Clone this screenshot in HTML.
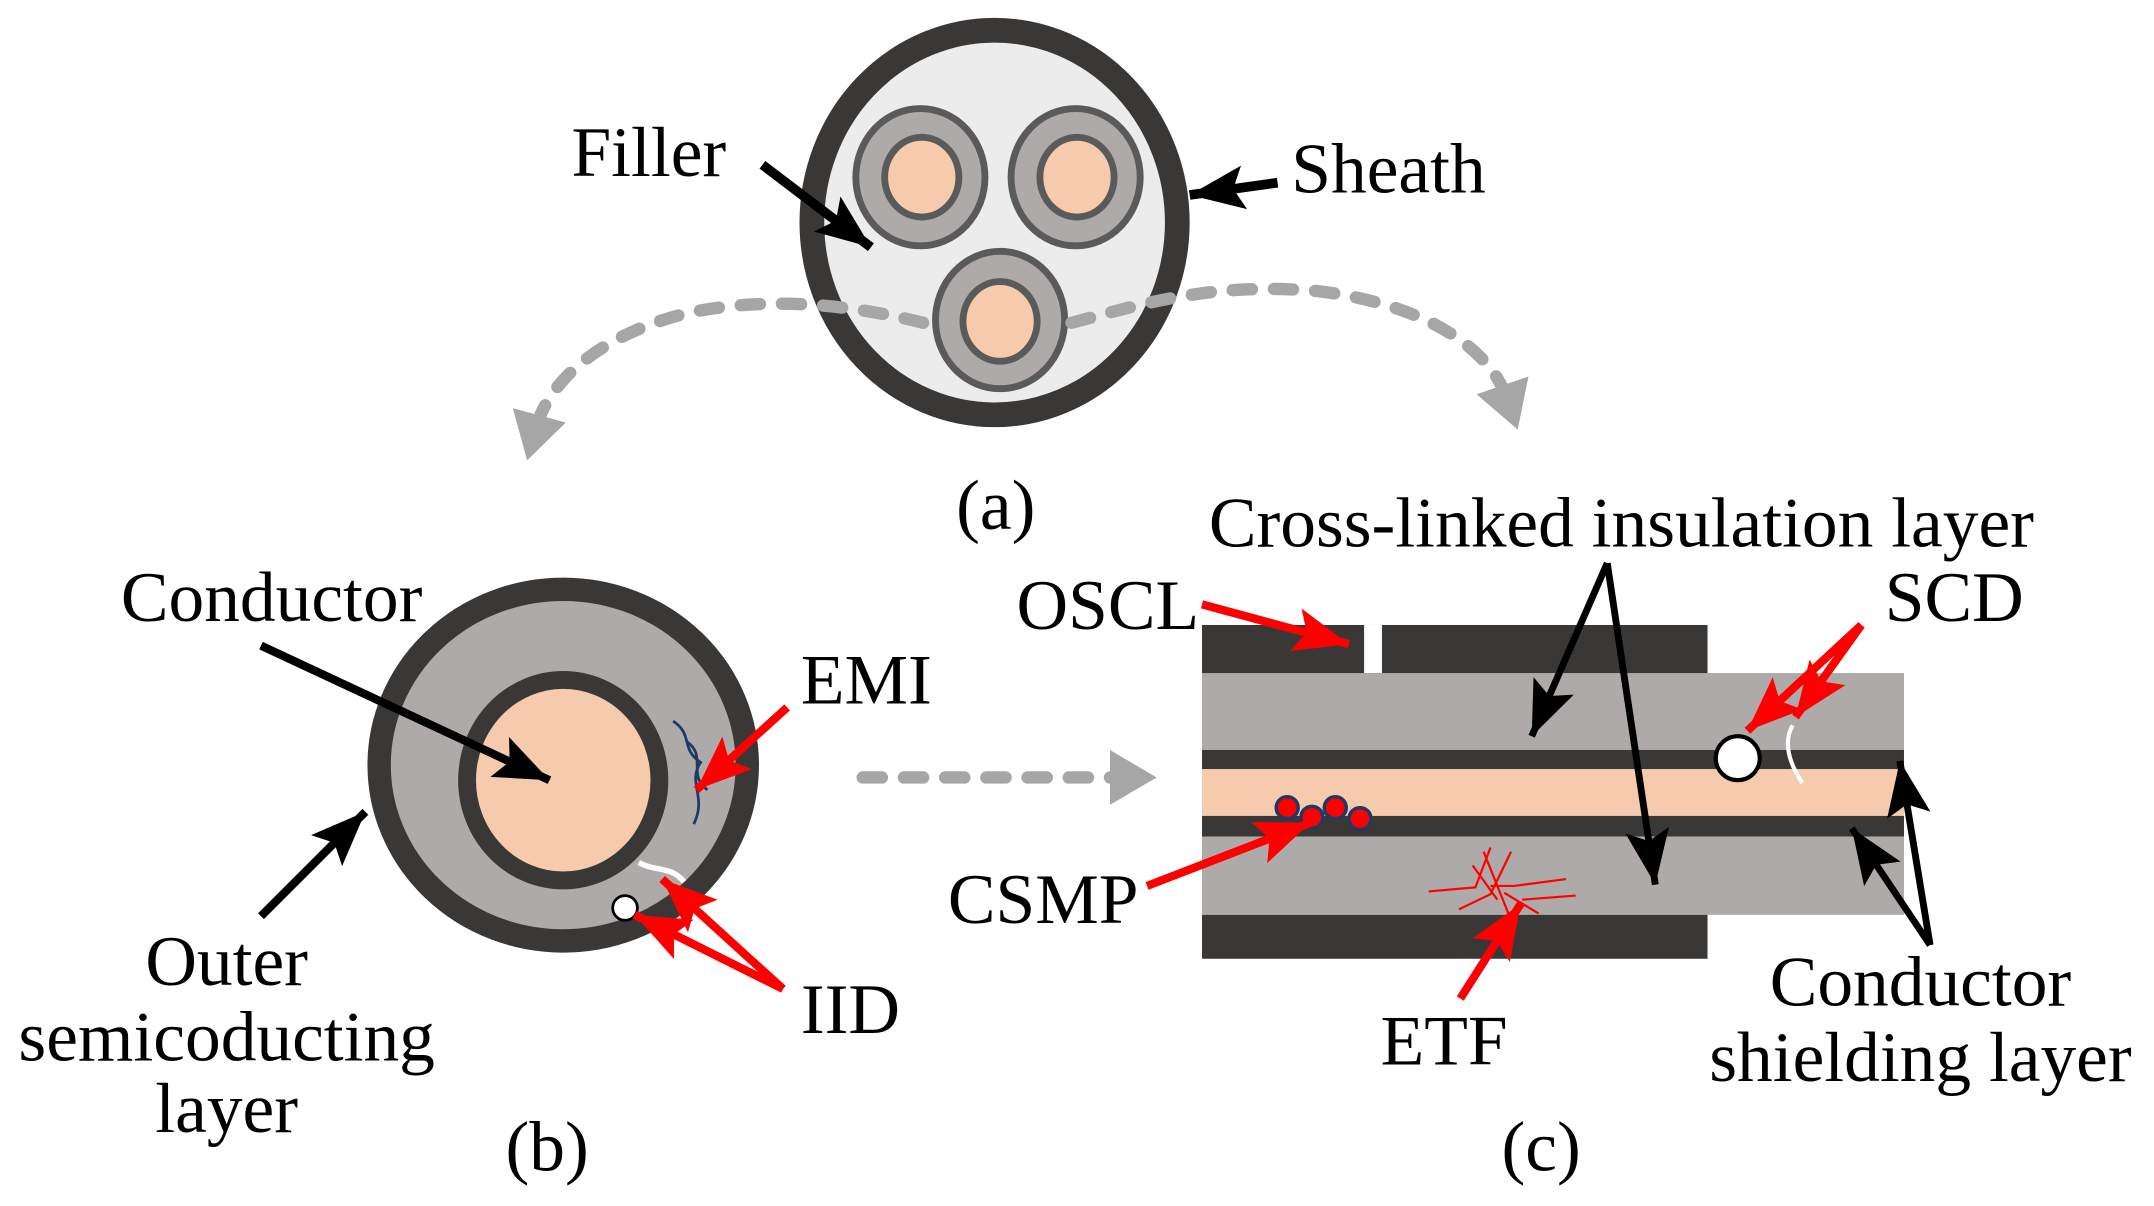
<!DOCTYPE html>
<html><head><meta charset="utf-8"><style>html,body{margin:0;padding:0;background:#fff}svg{display:block}</style></head><body>
<svg width="2154" height="1206" viewBox="0 0 1568 878" preserveAspectRatio="none" xmlns="http://www.w3.org/2000/svg" font-family="Liberation Serif, serif" font-size="52">
<defs>
<marker id="bk" markerUnits="userSpaceOnUse" markerWidth="50" markerHeight="40" refX="40" refY="16" orient="auto"><path d="M0,0 L40,16 L0,32 L8,16 Z" fill="#000"/></marker>
<marker id="rd" markerUnits="userSpaceOnUse" markerWidth="50" markerHeight="40" refX="40" refY="16" orient="auto"><path d="M0,0 L40,16 L0,32 L8,16 Z" fill="#f00"/></marker>
<marker id="gy" markerUnits="userSpaceOnUse" markerWidth="50" markerHeight="50" refX="10" refY="20" orient="auto"><path d="M0,0 L34,20 L0,40 Z" fill="#a6a6a6"/></marker>
</defs>
<rect width="1568" height="878" fill="#fff"/>
<!-- (a) -->
<ellipse cx="724" cy="162" rx="133" ry="140" fill="#ececec" stroke="#393837" stroke-width="18"/>
<g stroke="#5a5a5a" stroke-width="5">
<ellipse cx="670" cy="129" rx="47" ry="50" fill="#aeaaa9"/><ellipse cx="671" cy="129" rx="27" ry="29" fill="#f6cbad"/>
<ellipse cx="783" cy="129" rx="47" ry="50" fill="#aeaaa9"/><ellipse cx="784" cy="129" rx="27" ry="29" fill="#f6cbad"/>
<ellipse cx="728" cy="233" rx="47" ry="50" fill="#aeaaa9"/><ellipse cx="728" cy="234" rx="27" ry="29" fill="#f6cbad"/>
</g>
<g fill="none" stroke="#a6a6a6" stroke-width="9" stroke-linecap="round" stroke-dasharray="14,16">
<path d="M672,235 C620,222 560,215 500,228 C440,243 400,275 390,312" marker-end="url(#gy)"/>
<path d="M780,235 C830,222 880,205 960,212 C1040,222 1085,255 1097,290" marker-end="url(#gy)"/>
<path d="M628,566 L818,566" marker-end="url(#gy)"/>
</g>
<text x="416" y="128">Filler</text>
<line x1="555" y1="120" x2="634" y2="180" stroke="#000" stroke-width="7" marker-end="url(#bk)"/>
<text x="940" y="140">Sheath</text>
<line x1="930" y1="133" x2="866" y2="142" stroke="#000" stroke-width="7" marker-end="url(#bk)"/>
<text x="696" y="385">(a)</text>
<!-- (b) -->
<ellipse cx="410" cy="557" rx="134" ry="128" fill="#aeaaa9" stroke="#393837" stroke-width="17"/>
<ellipse cx="410" cy="568" rx="70" ry="73" fill="#f6cbad" stroke="#393837" stroke-width="13"/>
<path d="M490,525 C505,535 495,545 510,555 C500,570 515,580 505,600 M500,540 C515,550 500,565 515,575" fill="none" stroke="#1f3864" stroke-width="2"/>
<path d="M465,628 C478,635 488,630 498,642" fill="none" stroke="#fff" stroke-width="4"/>
<circle cx="455" cy="661" r="9" fill="#fff" stroke="#000" stroke-width="2"/>
<text x="88" y="452">Conductor</text>
<line x1="190" y1="470" x2="400" y2="568" stroke="#000" stroke-width="6" marker-end="url(#bk)"/>
<text x="583" y="512">EMI</text>
<line x1="573" y1="515" x2="507" y2="575" stroke="#f00" stroke-width="6" marker-end="url(#rd)"/>
<text x="583" y="752">IID</text>
<line x1="570" y1="720" x2="462" y2="666" stroke="#f00" stroke-width="6" marker-end="url(#rd)"/>
<line x1="570" y1="720" x2="482" y2="640" stroke="#f00" stroke-width="6" marker-end="url(#rd)"/>
<line x1="190" y1="667" x2="266" y2="591" stroke="#000" stroke-width="6" marker-end="url(#bk)"/>
<text x="165" y="717" text-anchor="middle">Outer</text>
<text x="165" y="772" text-anchor="middle">semicoducting</text>
<text x="165" y="824" text-anchor="middle">layer</text>
<text x="368" y="852">(b)</text>
<!-- (c) -->
<rect x="875" y="455" width="368" height="36" fill="#393837"/>
<rect x="993" y="455" width="13" height="35" fill="#fff"/>
<rect x="875" y="490" width="511" height="56" fill="#aeaaa9"/>
<rect x="875" y="546" width="511" height="14" fill="#393837"/>
<rect x="875" y="560" width="511" height="34" fill="#f6cbad"/>
<rect x="875" y="594" width="511" height="15" fill="#393837"/>
<rect x="875" y="609" width="511" height="57" fill="#aeaaa9"/>
<rect x="875" y="666" width="368" height="32" fill="#393837"/>
<g fill="#f00" stroke="#1f3864" stroke-width="2.5">
<ellipse cx="937" cy="588" rx="8" ry="8"/><ellipse cx="955" cy="595" rx="8" ry="8"/><ellipse cx="972" cy="588" rx="8" ry="8"/><ellipse cx="990" cy="596" rx="8" ry="8"/>
</g>
<path d="M1040,649 L1074,646 L1085,617 M1080,620 L1102,675 M1085,645 L1102,645 L1140,640 M1062,662 L1085,651 L1100,620 M1095,650 L1120,665 M1108,655 L1147,652 M1072,630 L1090,655" fill="none" stroke="#f00" stroke-width="1.6"/>
<circle cx="1265" cy="552" r="16" fill="#fff" stroke="#000" stroke-width="3"/>
<path d="M1305,528 C1298,540 1302,555 1312,570" fill="none" stroke="#fff" stroke-width="3"/>
<text x="880" y="398">Cross-linked insulation layer</text>
<line x1="1170" y1="410" x2="1115" y2="536" stroke="#000" stroke-width="5" marker-end="url(#bk)"/>
<line x1="1170" y1="410" x2="1205" y2="644" stroke="#000" stroke-width="5" marker-end="url(#bk)"/>
<text x="740" y="458">OSCL</text>
<line x1="875" y1="440" x2="982" y2="469" stroke="#f00" stroke-width="6" marker-end="url(#rd)"/>
<text x="1372" y="452">SCD</text>
<line x1="1355" y1="455" x2="1272" y2="532" stroke="#f00" stroke-width="6" marker-end="url(#rd)"/>
<line x1="1355" y1="455" x2="1307" y2="522" stroke="#f00" stroke-width="6" marker-end="url(#rd)"/>
<text x="690" y="672">CSMP</text>
<line x1="835" y1="645" x2="954" y2="599" stroke="#f00" stroke-width="6" marker-end="url(#rd)"/>
<text x="1005" y="775">ETF</text>
<line x1="1063" y1="727" x2="1107" y2="658" stroke="#f00" stroke-width="6" marker-end="url(#rd)"/>
<line x1="1405" y1="688" x2="1383" y2="554" stroke="#000" stroke-width="5" marker-end="url(#bk)"/>
<line x1="1405" y1="688" x2="1348" y2="603" stroke="#000" stroke-width="5" marker-end="url(#bk)"/>
<text x="1398" y="732" text-anchor="middle">Conductor</text>
<text x="1398" y="787" text-anchor="middle">shielding layer</text>
<text x="1093" y="852">(c)</text>
</svg>
</body></html>
